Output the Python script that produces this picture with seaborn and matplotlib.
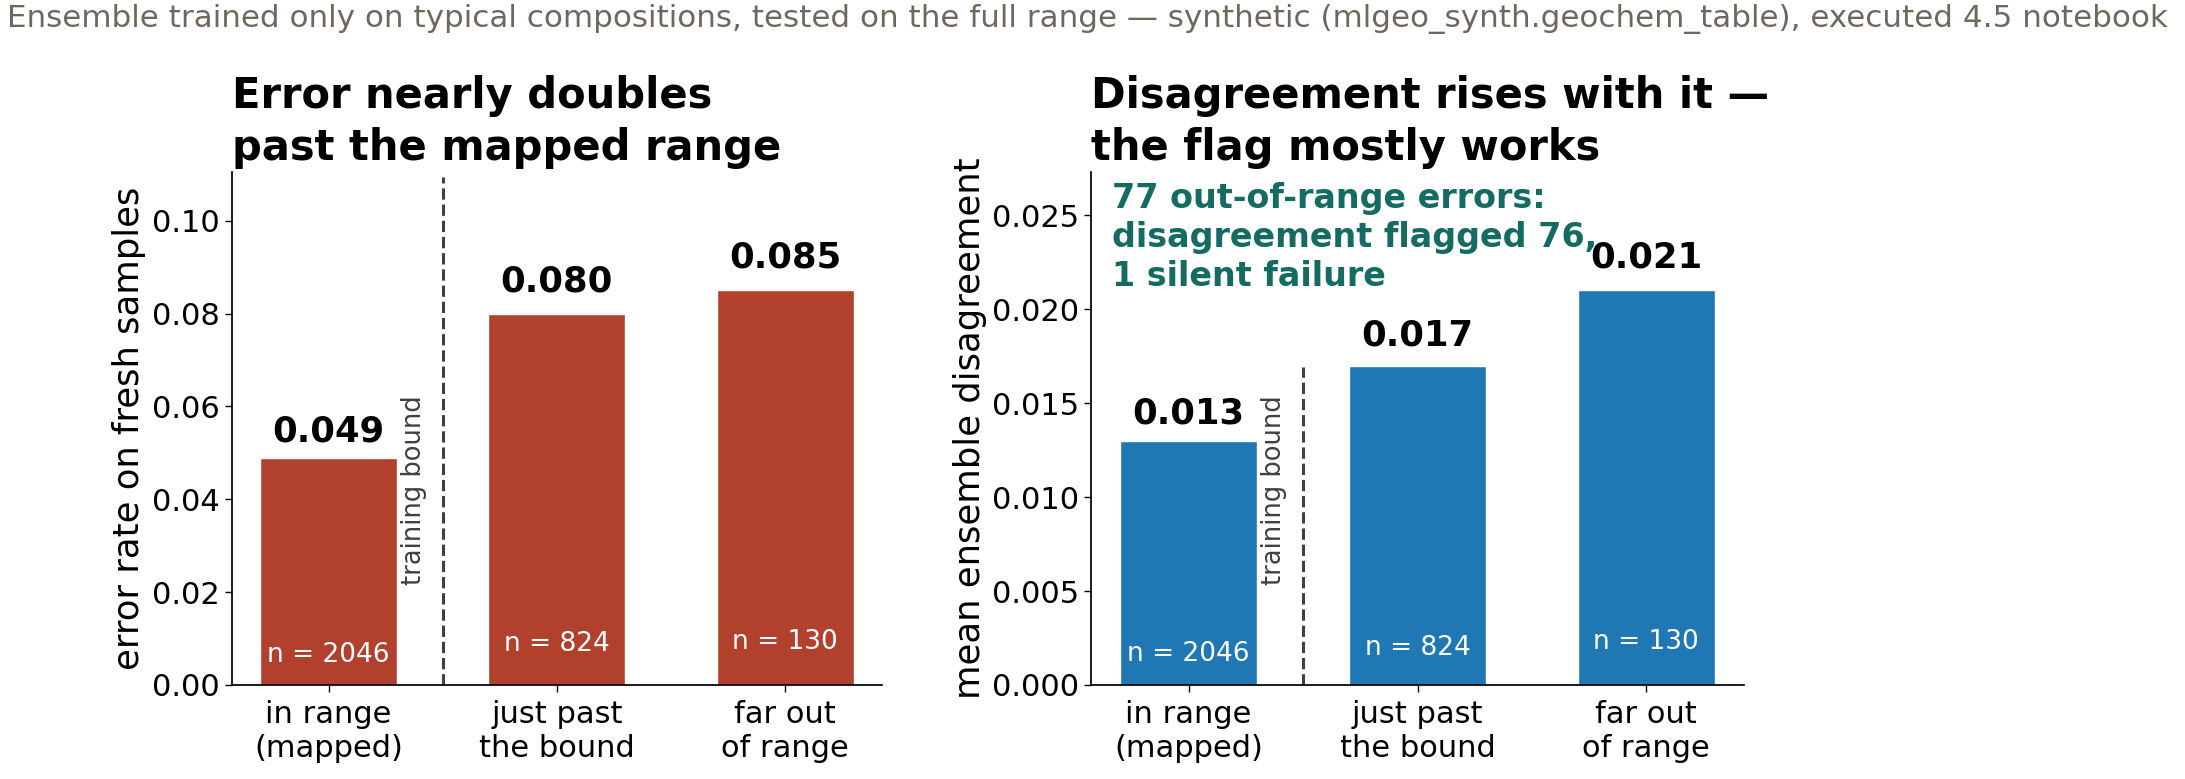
import numpy as np
import pandas as pd
import matplotlib
matplotlib.use("Agg")
import matplotlib.pyplot as plt
import matplotlib.transforms as mtrans
import seaborn as sns

# data
groups = ["in range\n(mapped)", "just past\nthe bound", "far out\nof range"]
n_samples = [2046, 824, 130]
error_rate = [0.049, 0.080, 0.085]
disagreement = [0.013, 0.017, 0.021]

SUPTITLE = ("Ensemble trained only on typical compositions, tested on the full range \u2014 "
            "synthetic (mlgeo_synth.geochem_table), executed 4.5 notebook")
RED = "#b1402c"
BLUE = "#1f77b4"
TEAL = "#136b62"
GREY = "#404040"

sns.set_theme(style="white")
plt.rcParams["font.family"] = ["DejaVu Sans"]
for k in ["text.color", "axes.labelcolor", "xtick.color", "ytick.color", "axes.edgecolor"]:
    plt.rcParams[k] = "black"
plt.rcParams["xtick.bottom"] = True
plt.rcParams["ytick.left"] = True

fig = plt.figure(figsize=(21.85, 7.79), dpi=100)
ax1 = fig.add_axes([0.106, 0.1207, 0.2977, 0.6585])
ax2 = fig.add_axes([0.4995, 0.1207, 0.2985, 0.6585])


def draw_panel(ax, vals, color, title, ylabel, fmt, vline_top):
    df = pd.DataFrame({"group": groups, "value": vals})
    sns.barplot(data=df, x="group", y="value", color=color, saturation=1,
                width=0.6, ax=ax)
    ymax = max(vals) * 1.3
    ax.set_ylim(0, ymax)
    ax.set_xlim(-0.425, 2.425)
    for i, (v, n) in enumerate(zip(vals, n_samples)):
        ax.text(i, v * 1.04, fmt.format(v), ha="center", va="bottom",
                fontsize=25.5, fontweight="bold")
        ax.text(i, v * 0.075, f"n = {n}", ha="center", va="bottom",
                fontsize=19, color="white")
    ax.axvline(0.5, ymin=0, ymax=vline_top, color=GREY, lw=2.2, ls="--")
    tr = mtrans.blended_transform_factory(ax.transData, ax.transAxes)
    ax.text(0.43, 0.195, "training bound", rotation=90, ha="right", va="bottom",
            fontsize=18.5, color=GREY, transform=tr)
    ax.set_title(title, loc="left", fontsize=30, fontweight="bold", pad=9,
                 linespacing=1.3)
    ax.set_xlabel("")
    ax.set_ylabel(ylabel, fontsize=25.5)
    ax.tick_params(axis="both", labelsize=22, length=5, width=1)
    ax.tick_params(axis="x", pad=6)
    sns.despine(ax=ax)


draw_panel(ax1, error_rate, RED, "Error nearly doubles\npast the mapped range",
           "error rate on fresh samples", "{:.3f}", 0.99)
draw_panel(ax2, disagreement, BLUE, "Disagreement rises with it \u2014\nthe flag mostly works",
           "mean ensemble disagreement", "{:.3f}", 0.62)

ax2.text(0.032, 0.98, "77 out-of-range errors:\ndisagreement flagged 76,\n1 silent failure",
         transform=ax2.transAxes, ha="left", va="top", fontsize=24,
         fontweight="bold", color=TEAL, linespacing=1.22)

fig.text(0.003, 0.995, SUPTITLE, ha="left", va="top", fontsize=22.3, color="#6e675e")

fig.savefig("out.png", dpi=100)
